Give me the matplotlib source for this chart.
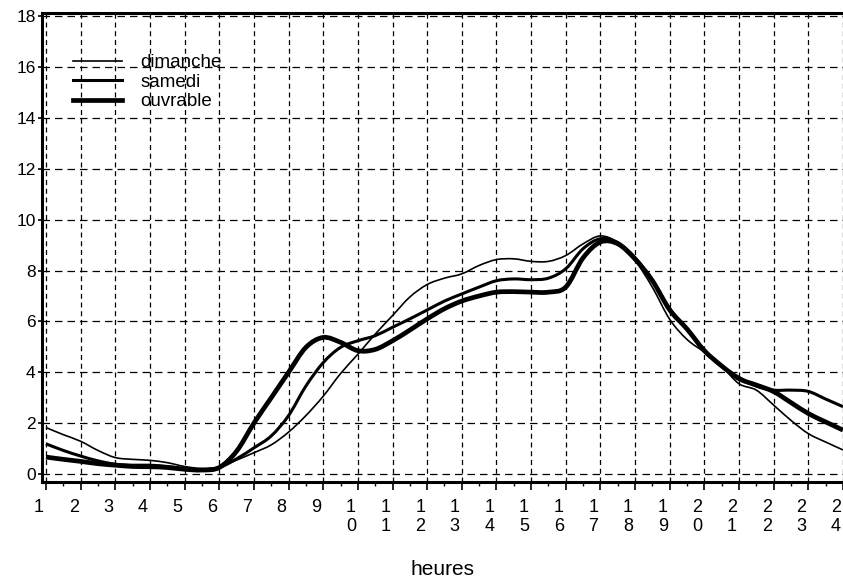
import numpy as np
import matplotlib
matplotlib.use("Agg")
import matplotlib.pyplot as plt
import matplotlib.transforms as mtransforms
from matplotlib.path import Path
from matplotlib.patches import PathPatch

plt.rcParams['font.family'] = ['Liberation Sans', 'DejaVu Sans']

# heures (pas d'une demi-heure)
heures = np.arange(1, 24.5, 0.5)

dimanche = [1.83, 1.55, 1.29, 0.93, 0.65, 0.58, 0.54, 0.45, 0.30, 0.22,
            0.28, 0.55, 0.84, 1.15, 1.65, 2.30, 3.06, 3.95, 4.71, 5.50,
            6.23, 6.96, 7.45, 7.70, 7.87, 8.20, 8.43, 8.46, 8.36, 8.36,
            8.59, 9.05, 9.36, 9.10, 8.40, 7.34, 6.08, 5.29, 4.79, 4.24,
            3.55, 3.30, 2.71, 2.11, 1.59, 1.26, 0.95]

samedi = [1.19, 0.93, 0.71, 0.52, 0.39, 0.35, 0.35, 0.30, 0.22, 0.17,
          0.26, 0.60, 1.03, 1.50, 2.30, 3.46, 4.38, 4.98, 5.24, 5.44,
          5.77, 6.10, 6.45, 6.80, 7.08, 7.35, 7.60, 7.67, 7.64, 7.70,
          8.07, 8.86, 9.25, 9.10, 8.50, 7.60, 6.50, 5.70, 4.85, 4.25,
          3.80, 3.46, 3.30, 3.30, 3.25, 2.95, 2.65]

ouvrable = [0.67, 0.58, 0.50, 0.41, 0.35, 0.30, 0.29, 0.26, 0.19, 0.16,
            0.26, 0.90, 2.00, 3.00, 4.00, 4.98, 5.37, 5.18, 4.85, 4.90,
            5.24, 5.66, 6.10, 6.50, 6.80, 7.00, 7.15, 7.17, 7.15, 7.15,
            7.35, 8.50, 9.12, 9.05, 8.45, 7.60, 6.45, 5.70, 4.85, 4.25,
            3.75, 3.50, 3.24, 2.81, 2.38, 2.05, 1.73]

series = [('dimanche', dimanche, 1.2), ('samedi', samedi, 2.2), ('ouvrable', ouvrable, 3.4)]

xticks = list(range(1, 25))
xlabels = ['\n'.join(str(h)) for h in xticks]
yticks = list(range(0, 19, 2))


def smooth_path(x, y):
    # courbe lissee (bezier) passant par les points lus
    pts = np.column_stack([x, y])
    n = len(pts)
    verts = [pts[0]]
    codes = [Path.MOVETO]
    for i in range(n - 1):
        p0 = pts[max(i - 1, 0)]
        p1 = pts[i]
        p2 = pts[i + 1]
        p3 = pts[min(i + 2, n - 1)]
        verts += [p1 + (p2 - p0) / 6, p2 - (p3 - p1) / 6, p2]
        codes += [Path.CURVE4] * 3
    return Path(verts, codes)


fig = plt.figure(figsize=(8.43, 5.81), dpi=100)
ax = fig.add_axes([42/843, 99/581, 801/843, 469/581])

for name, vals, lw in series:
    patch = PathPatch(smooth_path(heures, vals), fill=False, edgecolor='black',
                      lw=lw, joinstyle='round', capstyle='butt', zorder=3)
    ax.add_patch(patch)
    ax.plot([], [], color='black', lw=lw, label=name)

ax.set_xlim(0.885, 24.0)
ax.set_ylim(-0.31, 18.12)

ax.set_xticks(xticks)
ax.set_xticklabels(xlabels, fontsize=13)
ax.set_xticks(np.arange(1.5, 24, 0.5), minor=True)
ax.set_yticks(yticks)
ax.set_yticklabels([str(v) for v in yticks], fontsize=12.5)
ax.tick_params(axis='x', which='major', length=6, width=1.2, pad=6, direction='out')
ax.tick_params(axis='x', which='minor', length=3, width=1, direction='out')
ax.tick_params(axis='y', which='major', length=3, width=1.2, pad=1.5, direction='out')

offset = mtransforms.ScaledTranslation(-7/100, 0, fig.dpi_scale_trans)
for lab in ax.get_xticklabels():
    lab.set_transform(lab.get_transform() + offset)

for v in yticks:
    ax.axhline(v, color='black', lw=0.9, ls=(0, (6, 4)), zorder=0)
for h in xticks:
    ax.axvline(h, color='black', lw=0.9, ls=(0, (4, 3)), zorder=0)

for s in ['left', 'bottom', 'top']:
    ax.spines[s].set_linewidth(2.2)
ax.spines['right'].set_visible(False)

ax.set_xlabel('heures', fontsize=15, labelpad=18)

ax.legend(loc='upper left', bbox_to_anchor=(0.039, 0.912), frameon=False,
          fontsize=13.5, handlelength=2.6, handletextpad=1.0, labelspacing=0.12,
          borderpad=0, borderaxespad=0)

fig.savefig('out.png', dpi=100)
